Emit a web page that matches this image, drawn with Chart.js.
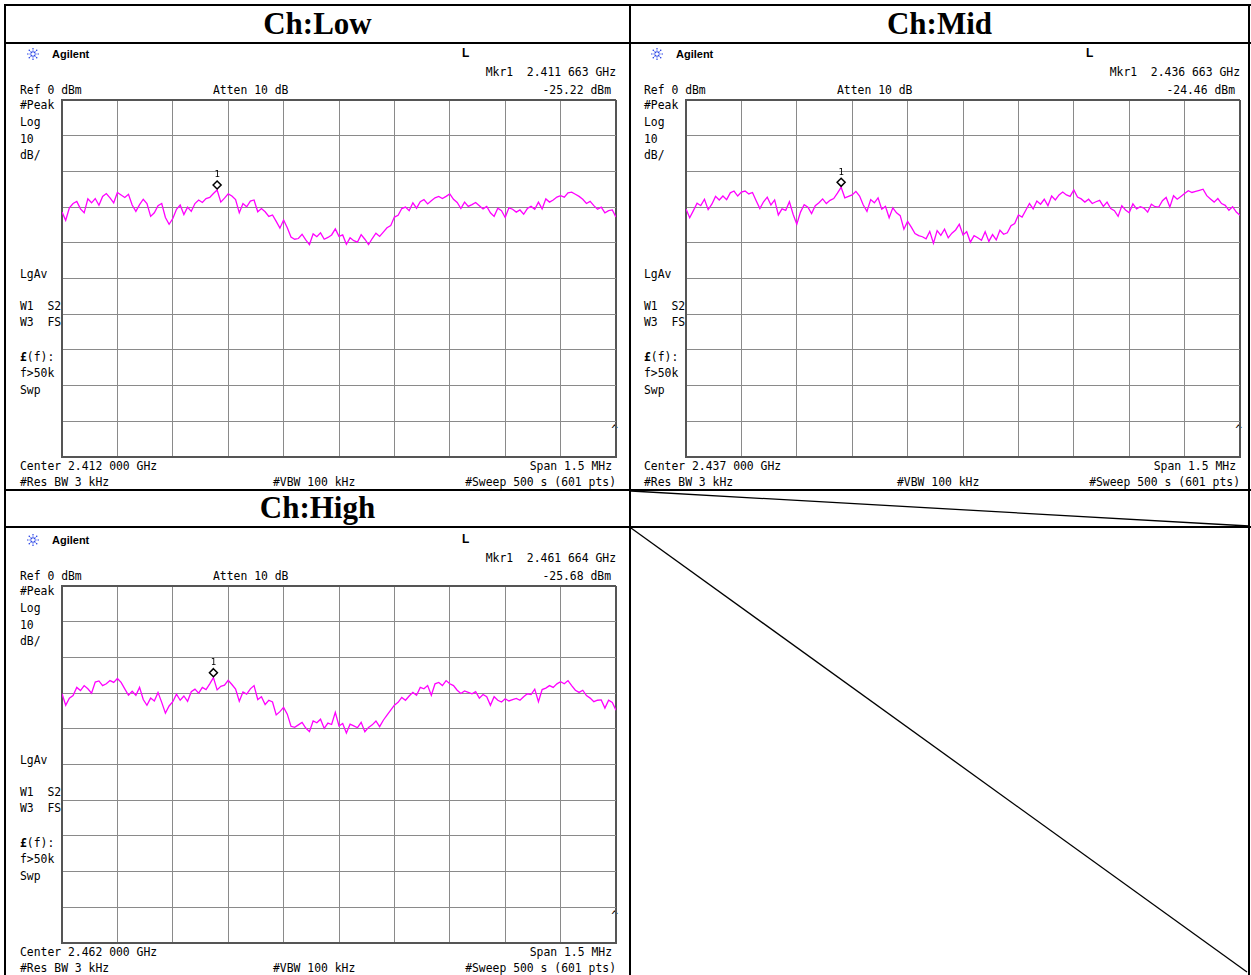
<!doctype html>
<html lang="en">
<head>
<meta charset="utf-8">
<title>Ch:Low / Ch:Mid / Ch:High</title>
<script src="https://cdn.jsdelivr.net/npm/chart.js@4.4.1/dist/chart.umd.min.js"></script>
<style>
  body { margin:0; background:#fff; width:1251px; height:975px; overflow:hidden; position:relative; }
  .panel { position:absolute; left:0; top:0; width:630px; height:490px; }
  .t { position:absolute; font-family:"DejaVu Sans Mono", monospace; font-size:11.4px; line-height:12px; white-space:pre; color:#000; }
  .r { text-align:right; width:300px; }
  .head { position:absolute; font-family:"Liberation Serif", serif; font-weight:bold; font-size:31px; line-height:36px; height:36px; text-align:center; }
  .brand { position:absolute; font-family:"Liberation Sans", sans-serif; font-weight:bold; font-size:11px; line-height:12px; }
  canvas { position:absolute; }
  svg { position:absolute; left:0; top:0; }
</style>
</head>
<body>
<script>
// trace points, 151 per sweep (10 divisions, 15 points each), dBm
var lowTrace = [
  -31.4,-33.7,-30.2,-29.0,-28.4,-30.5,-31.6,-27.7,-28.8,-27.6,-29.5,-27.0,-26.2,-27.4,-28.8,-25.9,
  -26.6,-27.3,-26.4,-29.4,-31.2,-29.3,-27.8,-29.0,-32.6,-31.6,-29.6,-29.0,-32.9,-34.8,-33.2,
  -30.6,-29.4,-32.1,-30.0,-31.2,-29.0,-28.0,-28.7,-27.6,-27.3,-26.2,-25.22,-28.6,-27.5,-26.3,
  -26.9,-27.9,-31.6,-29.0,-29.9,-28.3,-28.0,-31.3,-30.4,-31.3,-32.6,-32.2,-34.0,-35.9,-33.6,
  -35.8,-38.4,-39.0,-38.8,-37.6,-39.2,-40.5,-37.5,-38.3,-37.2,-39.0,-38.5,-37.8,-36.1,-38.2,
  -37.8,-40.4,-38.6,-39.4,-39.8,-37.7,-39.0,-40.5,-38.8,-37.3,-38.2,-37.0,-35.8,-35.2,-32.8,
  -32.3,-30.4,-30.0,-31.0,-28.8,-30.3,-28.5,-27.9,-29.1,-28.2,-27.4,-27.0,-27.6,-27.0,-26.3,
  -27.8,-28.7,-30.4,-28.6,-29.8,-29.3,-28.7,-29.6,-30.5,-29.8,-31.6,-32.6,-30.3,-31.0,-32.9,
  -30.2,-30.6,-31.4,-30.8,-32.0,-30.4,-29.8,-30.6,-28.6,-30.5,-27.7,-28.6,-28.0,-27.2,-26.8,
  -27.2,-26.0,-25.8,-26.4,-27.0,-27.8,-29.0,-28.4,-29.6,-30.6,-30.0,-31.6,-31.0,-30.8,-32.8
];
var midTrace = [
  -30.5,-33.0,-31.0,-28.9,-29.6,-27.8,-30.7,-29.2,-27.0,-28.0,-26.9,-27.9,-26.0,-25.5,-26.9,-25.8,
  -25.5,-26.3,-25.9,-28.2,-30.4,-28.5,-27.2,-29.4,-28.0,-32.2,-30.5,-30.9,-28.5,-32.0,-34.8,
  -31.4,-29.3,-30.0,-31.8,-29.6,-28.8,-27.7,-29.0,-28.1,-27.6,-26.1,-24.46,-27.4,-27.0,-26.6,
  -25.6,-26.9,-29.4,-31.2,-27.9,-28.8,-27.4,-30.6,-29.8,-33.0,-30.2,-31.6,-32.4,-36.2,-34.0,
  -35.6,-37.4,-38.0,-38.3,-38.9,-36.8,-40.1,-36.6,-37.9,-36.2,-38.6,-37.3,-36.4,-34.8,-37.8,
  -36.9,-39.8,-38.0,-38.6,-39.3,-36.9,-39.6,-37.7,-39.2,-36.5,-37.6,-37.2,-35.2,-34.6,-32.2,
  -32.8,-30.9,-29.0,-30.5,-28.3,-29.2,-27.8,-29.6,-26.9,-28.0,-26.6,-25.8,-26.6,-27.0,-25.2,
  -27.2,-27.7,-28.6,-27.8,-29.0,-28.5,-28.1,-29.8,-28.6,-30.4,-31.0,-32.6,-29.6,-30.8,-31.6,
  -29.1,-30.5,-29.9,-30.3,-31.4,-29.2,-29.9,-30.0,-28.2,-27.3,-30.0,-26.8,-27.8,-27.0,-26.2,
  -25.4,-25.9,-25.6,-25.3,-25.0,-26.8,-27.7,-28.6,-27.6,-29.0,-29.5,-30.9,-29.9,-31.4,-32.3
];
var highTrace = [
  -30.2,-33.4,-31.4,-30.7,-28.4,-29.3,-27.9,-28.8,-30.0,-26.9,-26.6,-27.9,-27.4,-26.5,-27.0,-25.9,
  -27.0,-28.8,-30.6,-29.5,-30.6,-28.4,-31.8,-33.4,-31.4,-32.2,-29.8,-32.6,-35.6,-33.6,-32.4,
  -30.3,-32.0,-30.8,-32.3,-29.6,-28.9,-30.0,-28.4,-29.0,-27.4,-25.68,-29.1,-28.1,-27.8,-26.4,
  -27.6,-28.9,-32.3,-29.7,-30.3,-28.8,-27.9,-31.8,-31.0,-33.2,-32.0,-32.5,-36.1,-35.2,-34.0,
  -35.9,-39.3,-39.6,-38.9,-38.2,-39.8,-40.8,-37.8,-38.3,-37.3,-39.9,-38.4,-38.8,-35.4,-39.2,
  -38.5,-41.2,-38.7,-39.2,-39.7,-38.2,-40.8,-39.6,-38.9,-37.8,-39.4,-37.6,-36.2,-34.8,-33.4,
  -32.6,-31.2,-32.0,-30.8,-29.8,-30.6,-28.4,-28.8,-27.9,-30.6,-27.4,-27.0,-27.9,-26.5,-27.4,
  -27.9,-29.2,-30.1,-29.4,-29.8,-30.2,-29.6,-31.4,-30.4,-31.0,-33.4,-31.0,-32.0,-32.5,-31.6,
  -32.2,-31.8,-31.5,-32.0,-31.0,-30.2,-30.4,-28.9,-32.4,-29.0,-28.6,-27.9,-28.4,-27.4,-26.8,
  -27.4,-26.5,-27.9,-29.2,-29.8,-29.2,-30.7,-31.4,-32.4,-32.0,-31.9,-34.2,-32.0,-32.6,-34.8
];

var channels = ['Ch:Low', 'Ch:Mid', 'Ch:High'];
var centerFreqs = ['2.412 000 GHz', '2.437 000 GHz', '2.462 000 GHz'];
var markerFreqs = ['2.411 663 GHz', '2.436 663 GHz', '2.461 664 GHz'];
var markerLevels = [-25.22, -24.46, -25.68];
var markerIndex = [42, 42, 41];
var traces = [lowTrace, midTrace, highTrace];

var yTicks = [0, -10, -20, -30, -40, -50, -60, -70, -80, -90, -100];
var sidebar = ['#Peak', 'Log', '10', 'dB/', 'LgAv', 'W1  S2', 'W3  FS', '£(f):', 'f>50k', 'Swp'];

var offsets = [[0, 0], [624, 0], [0, 486]];

function txt(parent, x, y, s, right) {
  var d = document.createElement('div');
  d.className = right ? 't r' : 't';
  d.textContent = s;
  d.style.top = (y - 6) + 'px';
  d.style.left = (right ? x - 300 : x) + 'px';
  parent.appendChild(d);
  return d;
}

var markerPlugin = {
  id: 'marker',
  afterDatasetsDraw: function(chart, args, opts) {
    var c = chart.ctx;
    var px = chart.scales.x.getPixelForValue(opts.index);
    var py = chart.scales.y.getPixelForValue(opts.level) - 5;
    c.save();
    c.beginPath();
    c.moveTo(px, py - 4); c.lineTo(px + 4, py); c.lineTo(px, py + 4); c.lineTo(px - 4, py); c.closePath();
    c.fillStyle = '#fff'; c.fill();
    c.lineWidth = 1.5; c.strokeStyle = '#000'; c.stroke();
    c.fillStyle = '#000';
    c.font = '9px "DejaVu Sans Mono"';
    c.textAlign = 'center'; c.textBaseline = 'middle';
    c.fillText('1', px, py - 10);
    c.restore();
  }
};

function edge(v, lo, hi) { return v === lo || v === hi; }

channels.forEach(function(name, k) {
  var ox = offsets[k][0], oy = offsets[k][1];
  var p = document.createElement('div');
  p.className = 'panel';
  p.style.left = ox + 'px';
  p.style.top = oy + 'px';
  document.body.appendChild(p);

  // logo + brand
  var logo = document.createElementNS('http://www.w3.org/2000/svg', 'svg');
  logo.setAttribute('width', 14); logo.setAttribute('height', 14);
  logo.style.left = '26px'; logo.style.top = '47px';
  var spokes = '';
  for (var a = 0; a < 8; a++) {
    var ang = a * Math.PI / 4;
    spokes += '<line x1="' + (7 + 1.5 * Math.cos(ang)) + '" y1="' + (7 + 1.5 * Math.sin(ang)) +
      '" x2="' + (7 + 6 * Math.cos(ang)) + '" y2="' + (7 + 6 * Math.sin(ang)) + '" stroke="#2a45e6" stroke-width="1.2" stroke-dasharray="2 1"/>';
  }
  logo.innerHTML = spokes;
  p.appendChild(logo);
  var b = document.createElement('div');
  b.className = 'brand'; b.textContent = 'Agilent';
  b.style.left = '52px'; b.style.top = '48px';
  p.appendChild(b);
  var L = document.createElement('div');
  L.className = 'brand'; L.textContent = 'L';
  L.style.fontSize = '12px'; L.style.left = '462px'; L.style.top = '47px';
  p.appendChild(L);

  txt(p, 616, 72, 'Mkr1  ' + markerFreqs[k], true);
  txt(p, 20, 90, 'Ref 0 dBm');
  txt(p, 213, 90, 'Atten 10 dB');
  txt(p, 611, 90, markerLevels[k].toFixed(2) + ' dBm', true);

  var sideY = [105, 122, 139, 155, 274, 306, 322, 357, 373, 390];
  sidebar.forEach(function(s, i) {
    var d = txt(p, 20, sideY[i], s);
    if (s.charAt(0) === '£') d.innerHTML = '<b>£</b>(f):';
  });
  txt(p, 20, 466, 'Center ' + centerFreqs[k]);
  txt(p, 612, 466, 'Span 1.5 MHz', true);
  txt(p, 20, 482, '#Res BW 3 kHz');
  txt(p, 273, 482, '#VBW 100 kHz');
  txt(p, 616, 482, '#Sweep 500 s (601 pts)', true);
  txt(p, 618, 430, '^', true);

  var cv = document.createElement('canvas');
  cv.width = 556; cv.height = 359;
  cv.style.left = '61px'; cv.style.top = '99px';
  p.appendChild(cv);

  var pts = traces[k].map(function(v, i) { return { x: i, y: v }; });
  new Chart(cv, {
    type: 'line',
    data: { datasets: [{ data: pts, borderColor: '#ff00ff', borderWidth: 1.3, pointRadius: 0, tension: 0 }] },
    options: {
      responsive: false, animation: false, events: [],
      layout: { padding: 1 },
      plugins: { legend: { display: false }, tooltip: { enabled: false },
                 marker: { index: markerIndex[k], level: markerLevels[k] } },
      scales: {
        x: { type: 'linear', min: 0, max: traces[k].length - 1,
             ticks: { display: false, stepSize: 15 },
             grid: { drawTicks: false,
                     color: function(c) { return edge(c.tick.value, 0, 150) ? '#555' : '#8a8a8a'; },
                     lineWidth: function(c) { return edge(c.tick.value, 0, 150) ? 2 : 1; } },
             border: { color: '#555', width: 2 } },
        y: { min: yTicks[yTicks.length - 1], max: yTicks[0],
             ticks: { display: false, stepSize: 10 },
             grid: { drawTicks: false,
                     color: function(c) { return edge(c.tick.value, -100, 0) ? '#555' : '#8a8a8a'; },
                     lineWidth: function(c) { return edge(c.tick.value, -100, 0) ? 2 : 1; } },
             border: { color: '#555', width: 2 } }
      }
    },
    plugins: [markerPlugin]
  });
});

// table headers
[[6, 6, 0], [631, 6, 1], [6, 490, 2]].forEach(function(h) {
  var d = document.createElement('div');
  d.className = 'head';
  d.textContent = channels[h[2]];
  d.style.left = h[0] + 'px'; d.style.top = h[1] + 'px';
  d.style.width = (h[2] === 1 ? 617 : 623) + 'px';
  document.body.appendChild(d);
});

// table rules and the empty cell's diagonals
var frame = document.createElementNS('http://www.w3.org/2000/svg', 'svg');
frame.setAttribute('width', 1251); frame.setAttribute('height', 975);
frame.innerHTML =
  '<g stroke="#000" stroke-width="2">' +
  '<line x1="4" y1="5" x2="1251" y2="5"/>' +
  '<line x1="4" y1="43" x2="1251" y2="43"/>' +
  '<line x1="4" y1="490" x2="1251" y2="490"/>' +
  '<line x1="4" y1="527" x2="1251" y2="527"/>' +
  '<line x1="5" y1="4" x2="5" y2="975"/>' +
  '<line x1="630" y1="4" x2="630" y2="975"/>' +
  '<line x1="1249" y1="4" x2="1249" y2="975"/>' +
  '</g>' +
  '<g stroke="#000" stroke-width="1.3">' +
  '<line x1="631" y1="491" x2="1249" y2="526"/>' +
  '<line x1="631" y1="528" x2="1247" y2="972"/>' +
  '</g>';
document.body.appendChild(frame);
</script>
</body>
</html>
